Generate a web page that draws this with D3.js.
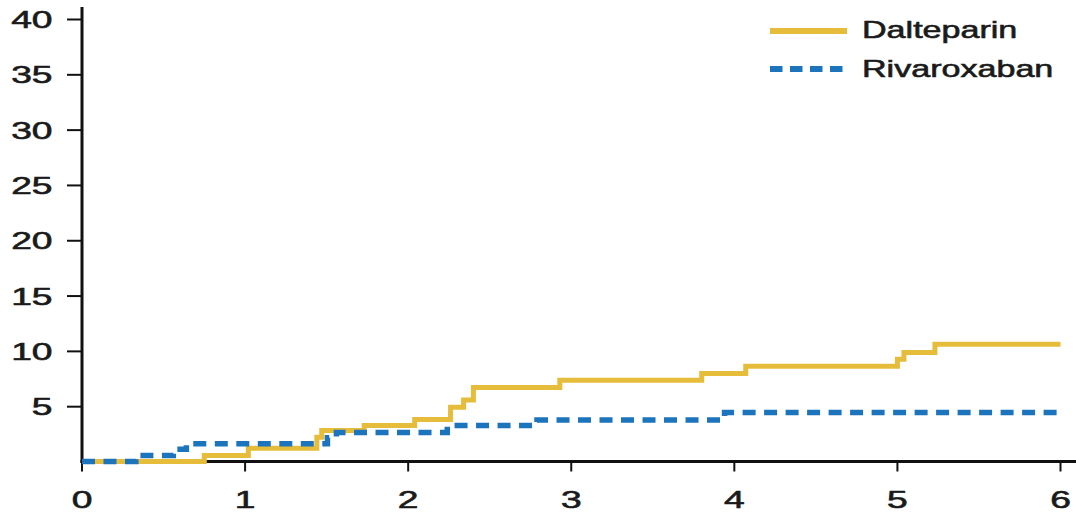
<!DOCTYPE html>
<html>
<head>
<meta charset="utf-8">
<script src="https://cdn.jsdelivr.net/npm/d3@7"></script>
<style>
  html, body { margin: 0; padding: 0; background: #fff; }
  svg { display: block; }
  text { font-family: "Liberation Sans", Arial, sans-serif; fill: #1a1a1a; stroke: #1a1a1a; stroke-width: 0.6px; }
</style>
</head>
<body>
<svg id="chart" width="1076" height="514"></svg>
<script>
// Cumulative incidence (%) over time (months) for the two treatment arms
const dalteparinTime = [0, 0.75, 1.02, 1.44, 1.47, 1.73, 2.04, 2.26, 2.34, 2.40, 2.93, 3.80, 4.07, 5.00, 5.04, 5.23, 6.00];
const dalteparinRate = [0, 0.55, 1.2, 2.2, 2.8, 3.25, 3.8, 4.9, 5.55, 6.7, 7.35, 7.95, 8.6, 9.25, 9.85, 10.6, 10.6];

const rivaroxabanTime = [0, 0.33, 0.56, 0.64, 1.505, 1.56, 2.24, 2.79, 3.94, 6.00];
const rivaroxabanRate = [0, 0.55, 1.1, 1.6, 2.15, 2.62, 3.25, 3.75, 4.42, 4.42];

const xTicks = [0, 1, 2, 3, 4, 5, 6];
const yTicks = [5, 10, 15, 20, 25, 30, 35, 40];

const seriesNames = ["Dalteparin", "Rivaroxaban"];
const seriesColors = ["#e5bd3a", "#1c75bc"];

const svg = d3.select("#chart");

const x = d3.scaleLinear().domain([0, 6]).range([82, 1060.5]);
const y = d3.scaleLinear().domain([0, 40]).range([461.5, 19]);

const labelStretchDigits = 1.55;
const labelStretchText = 1.42;

// Y axis
const yAxis = svg.append("g")
  .attr("transform", `translate(${x(0)},0)`)
  .call(d3.axisLeft(y).tickValues(yTicks).tickSize(15).tickPadding(0).tickSizeOuter(0));
yAxis.select(".domain").remove();
yAxis.selectAll(".tick line").attr("stroke", "#111").attr("stroke-width", 2);
yAxis.selectAll(".tick text")
  .attr("font-size", 24)
  .attr("x", -29.5 / labelStretchDigits)
  .attr("dy", "0.36em")
  .attr("transform", `scale(${labelStretchDigits},1)`);
svg.append("line")
  .attr("x1", x(0)).attr("x2", x(0))
  .attr("y1", 7).attr("y2", y(0) + 1.5)
  .attr("stroke", "#111").attr("stroke-width", 3);

// X axis
const xAxis = svg.append("g")
  .attr("transform", `translate(0,${y(0)})`)
  .call(d3.axisBottom(x).tickValues(xTicks).tickFormat(d3.format("d")).tickSize(10).tickSizeOuter(0));
xAxis.select(".domain").remove();
xAxis.selectAll(".tick line").attr("stroke", "#111").attr("stroke-width", 2);
xAxis.selectAll(".tick text")
  .attr("font-size", 24)
  .attr("y", 46.5)
  .attr("dy", 0)
  .attr("transform", `scale(${labelStretchDigits},1)`)
  .each(function(d) { d3.select(this.parentNode).attr("transform", `translate(${x(d)},0)`); });
svg.append("line")
  .attr("x1", x(0) - 1.5).attr("x2", 1076)
  .attr("y1", y(0)).attr("y2", y(0))
  .attr("stroke", "#111").attr("stroke-width", 3);

// Step curves
const step = d3.line()
  .x(d => x(d[0]))
  .y(d => y(d[1]))
  .curve(d3.curveStepAfter);

const dalteparin = dalteparinTime.map((t, i) => [t, dalteparinRate[i]]);
const rivaroxaban = rivaroxabanTime.map((t, i) => [t, rivaroxabanRate[i]]);

svg.append("path")
  .datum(dalteparin)
  .attr("d", step)
  .attr("fill", "none")
  .attr("stroke", seriesColors[0])
  .attr("stroke-width", 5);

svg.append("path")
  .datum(rivaroxaban)
  .attr("d", step)
  .attr("fill", "none")
  .attr("stroke", seriesColors[1])
  .attr("stroke-width", 5.5)
  .attr("stroke-dasharray", "13,8.5");

// Legend
const legendRows = [
  { name: seriesNames[0], color: seriesColors[0], dash: null, ly: 31, ty: 38 },
  { name: seriesNames[1], color: seriesColors[1], dash: "12.5,7.5", ly: 69, ty: 77 }
];
const legend = svg.append("g");
legendRows.forEach(r => {
  legend.append("line")
    .attr("x1", 770).attr("x2", 847)
    .attr("y1", r.ly).attr("y2", r.ly)
    .attr("stroke", r.color)
    .attr("stroke-width", 6)
    .attr("stroke-dasharray", r.dash);
  legend.append("text")
    .attr("transform", `translate(862,${r.ty}) scale(${labelStretchText},1)`)
    .attr("font-size", 24)
    .text(r.name);
});
</script>
</body>
</html>
